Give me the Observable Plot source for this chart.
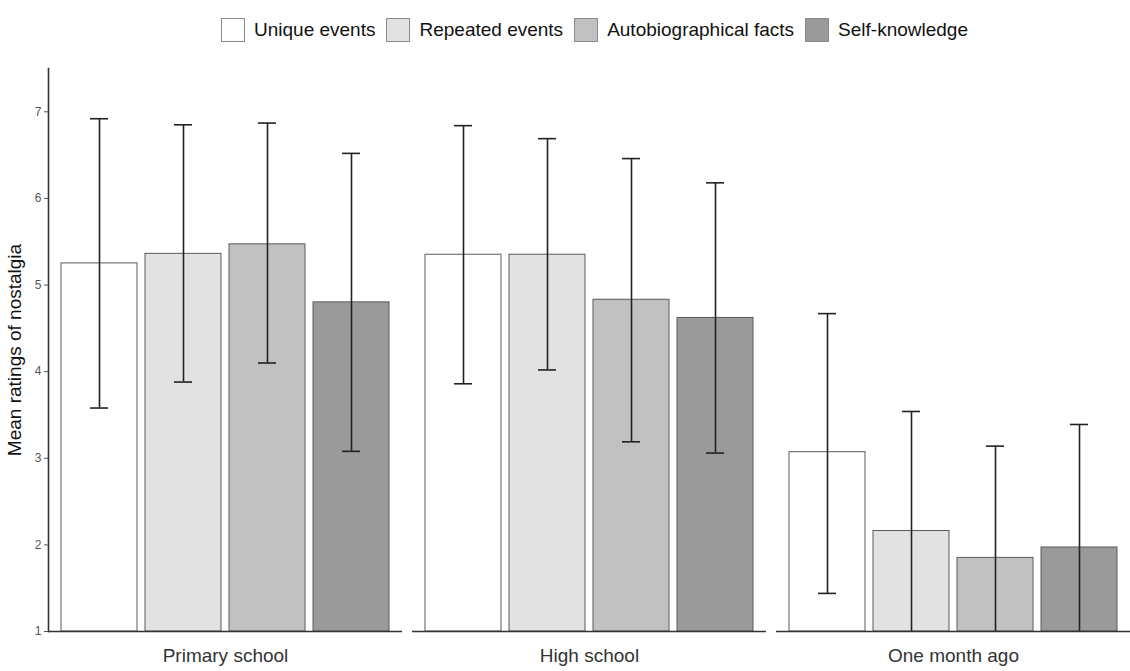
<!DOCTYPE html>
<html><head><meta charset="utf-8">
<script src="https://cdn.jsdelivr.net/npm/d3@7"></script>
<script src="https://cdn.jsdelivr.net/npm/@observablehq/plot@0.6"></script>
<style>
html,body{margin:0;padding:0;background:#fff;}
body{font-family:"Liberation Sans",Arial,sans-serif;width:1130px;height:671px;overflow:hidden;}
#legend{height:60px;display:flex;align-items:center;justify-content:center;padding-left:59px;box-sizing:border-box;font-size:19px;color:#111;}
.item{display:flex;align-items:center;margin-right:11px;}
.item:last-child{margin-right:0;}
.sw{width:22px;height:22px;border:1px solid #8a8a8a;margin-right:9px;box-sizing:content-box;}
</style>
</head><body><div id="legend"></div><div id="chart"></div>
<script>
const periods = ["Primary school", "High school", "One month ago"];
const memoryTypes = ["Unique events", "Repeated events", "Autobiographical facts", "Self-knowledge"];
const fills = ["#ffffff", "#e2e2e2", "#c1c1c1", "#9a9a9a"];
const yTicks = [1, 2, 3, 4, 5, 6, 7];

const meanPrimary = [5.25, 5.36, 5.47, 4.80];
const lowPrimary  = [3.58, 3.88, 4.10, 3.08];
const highPrimary = [6.92, 6.85, 6.87, 6.52];

const meanHigh = [5.35, 5.35, 4.83, 4.62];
const lowHigh  = [3.86, 4.02, 3.19, 3.06];
const highHigh = [6.84, 6.69, 6.46, 6.18];

const meanMonth = [3.07, 2.16, 1.85, 1.97];
const lowMonth  = [1.44, 0.78, 0.56, 0.55];
const highMonth = [4.67, 3.54, 3.14, 3.39];

const seriesByPeriod = [
  [meanPrimary, lowPrimary, highPrimary],
  [meanHigh, lowHigh, highHigh],
  [meanMonth, lowMonth, highMonth]
];
const rows = [];
periods.forEach((p, i) => {
  const [m, lo, hi] = seriesByPeriod[i];
  memoryTypes.forEach((t, j) => rows.push({period: p, type: t, mean: m[j], lo: lo[j], hi: hi[j]}));
});

// legend
const legend = document.getElementById("legend");
memoryTypes.forEach((t, j) => {
  const it = document.createElement("div"); it.className = "item";
  const sw = document.createElement("div"); sw.className = "sw"; sw.style.background = fills[j];
  const tx = document.createElement("span"); tx.textContent = t;
  it.appendChild(sw); it.appendChild(tx); legend.appendChild(it);
});

const font = "Liberation Sans, Arial, sans-serif";
const chart = Plot.plot({
  width: 1130, height: 611,
  marginTop: 8, marginBottom: 40, marginLeft: 48, marginRight: 0,
  style: {fontFamily: font, background: "#fff", overflow: "visible"},
  fx: {domain: periods, paddingInner: 0.0275, paddingOuter: 0, label: null, axis: null},
  x: {domain: memoryTypes, paddingInner: 0.1, paddingOuter: 0.15, axis: null},
  y: {domain: [1, 7.5], axis: null},
  color: {domain: memoryTypes, range: fills},
  marks: [
    Plot.barY(rows, {fx: "period", x: "type", y1: 1, y2: "mean", fill: "type", stroke: "#5a5a5a", strokeWidth: 1}),
    Plot.ruleX(rows, {fx: "period", x: "type", y1: "lo", y2: "hi", stroke: "#222", strokeWidth: 1.6, clip: true}),
    Plot.tickY(rows, {fx: "period", x: "type", y: "hi", stroke: "#222", strokeWidth: 1.6, insetLeft: 29, insetRight: 29}),
    Plot.tickY(rows, {fx: "period", x: "type", y: "lo", stroke: "#222", strokeWidth: 1.6, insetLeft: 29, insetRight: 29, clip: true}),
    Plot.ruleY([1], {stroke: "#333", strokeWidth: 1.6}),
    Plot.frame({anchor: "left", facetAnchor: "left", stroke: "#333", strokeWidth: 1.6}),
    Plot.axisY({ticks: yTicks, tickFormat: d3.format("d"), tickSize: 4, tickPadding: 3, fontSize: 12, color: "#555", label: null}),
    Plot.axisY({ticks: [], label: "Mean ratings of nostalgia", labelAnchor: "center", labelArrow: "none", labelOffset: 41, fontSize: 19, color: "#111"}),
    Plot.axisFx({anchor: "bottom", tickSize: 0, tickPadding: 17, fontSize: 19, color: "#333", label: null})
  ]
});
document.getElementById("chart").appendChild(chart);
</script>
</body></html>
